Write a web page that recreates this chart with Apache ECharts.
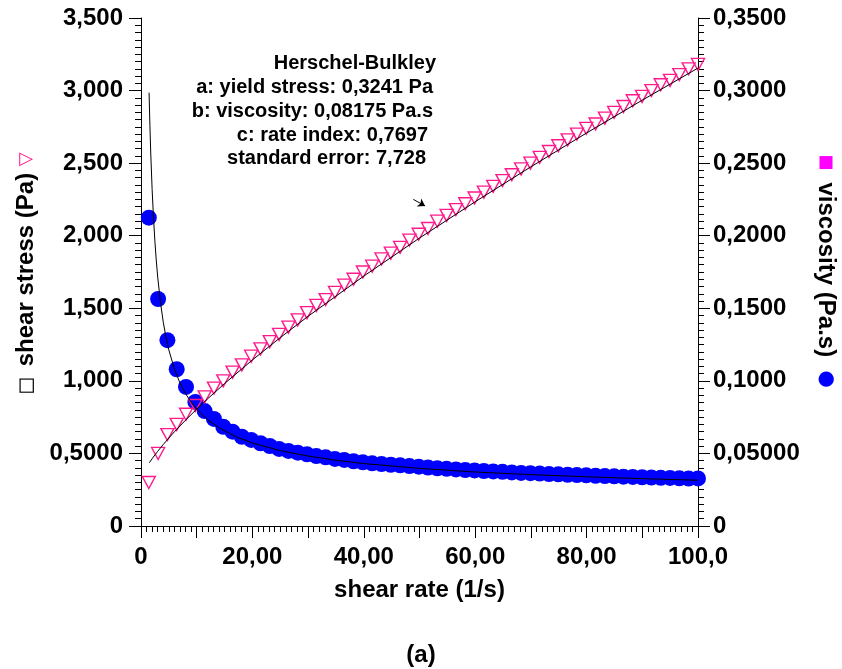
<!DOCTYPE html>
<html>
<head>
<meta charset="utf-8">
<script src="https://cdn.jsdelivr.net/npm/echarts@6/dist/echarts.min.js"></script>
<style>
  html, body { margin: 0; padding: 0; background: #fff; }
  #chart { width: 842px; height: 669px; }
</style>
</head>
<body>
<div id="chart"></div>
<script>
// Flow curve: shear stress and viscosity against shear rate, with Herschel-Bulkley fit

const shearRate = [
  1.40, 3.07, 4.74, 6.41, 8.08, 9.76, 11.43, 13.10, 14.77, 16.44,
  18.11, 19.78, 21.45, 23.12, 24.79, 26.47, 28.14, 29.81, 31.48, 33.15,
  34.82, 36.49, 38.16, 39.83, 41.50, 43.18, 44.85, 46.52, 48.19, 49.86,
  51.53, 53.20, 54.87, 56.54, 58.21, 59.89, 61.56, 63.23, 64.90, 66.57,
  68.24, 69.91, 71.58, 73.25, 74.92, 76.60, 78.27, 79.94, 81.61, 83.28,
  84.95, 86.62, 88.29, 89.96, 91.63, 93.31, 94.98, 96.65, 98.32, 100.0
];

// shear stress (Pa)
const shearStress = [
  0.30, 0.50, 0.63, 0.70, 0.77, 0.83, 0.89, 0.95, 1.00, 1.06,
  1.11, 1.17, 1.22, 1.27, 1.32, 1.37, 1.42, 1.47, 1.52, 1.56,
  1.61, 1.66, 1.70, 1.75, 1.79, 1.84, 1.88, 1.92, 1.97, 2.01,
  2.05, 2.10, 2.14, 2.18, 2.22, 2.26, 2.30, 2.34, 2.38, 2.42,
  2.46, 2.50, 2.54, 2.58, 2.62, 2.66, 2.70, 2.74, 2.77, 2.81,
  2.85, 2.89, 2.93, 2.96, 3.00, 3.04, 3.07, 3.11, 3.15, 3.18
];

// viscosity (Pa.s)
const viscosity = [
  0.2124, 0.1564, 0.1280, 0.1080, 0.0958, 0.0855, 0.0792, 0.0738, 0.0684, 0.0650,
  0.0615, 0.0593, 0.0570, 0.0551, 0.0531, 0.0517, 0.0505, 0.0494, 0.0482, 0.0473,
  0.0462, 0.0455, 0.0446, 0.0439, 0.0432, 0.0427, 0.0422, 0.0418, 0.0413, 0.0409,
  0.0403, 0.0398, 0.0394, 0.0390, 0.0386, 0.0383, 0.0379, 0.0376, 0.0373, 0.0369,
  0.0366, 0.0364, 0.0361, 0.0358, 0.0356, 0.0353, 0.0351, 0.0349, 0.0346, 0.0344,
  0.0342, 0.0340, 0.0338, 0.0336, 0.0334, 0.0332, 0.0331, 0.0329, 0.0327, 0.0328
];

// Herschel-Bulkley fitted curves
const stressFitRate = [1.5, 2, 2.5, 3, 4, 5, 6, 8, 10, 12, 15, 20, 25, 30, 40, 50, 60, 70, 80, 90, 100];
const stressFit = [0.436, 0.4635, 0.4896, 0.5145, 0.5617, 0.6063, 0.6487, 0.7293, 0.8051, 0.8776,
  0.9814, 1.144, 1.298, 1.445, 1.722, 1.984, 2.234, 2.475, 2.708, 2.934, 3.155];

const viscFitRate = [1.45, 1.6, 1.75, 2, 2.25, 2.5, 2.75, 3, 3.5, 4, 4.5, 5, 6, 7, 8, 9, 10, 12, 14, 17,
  20, 25, 30, 35, 40, 50, 60, 70, 80, 90, 100];
const viscFit = [0.2986, 0.2759, 0.2570, 0.2318, 0.2119, 0.1958, 0.1826, 0.1715, 0.1539, 0.1404,
  0.1298, 0.1213, 0.1081, 0.0985, 0.0912, 0.0853, 0.0805, 0.0731, 0.0677, 0.0616,
  0.0572, 0.0519, 0.0482, 0.0453, 0.0430, 0.0397, 0.0372, 0.0354, 0.0339, 0.0326, 0.03155];

// tick labels
const stressTickLabels = ['0', '0,5000', '1,000', '1,500', '2,000', '2,500', '3,000', '3,500'];
const viscTickLabels = ['0', '0,05000', '0,1000', '0,1500', '0,2000', '0,2500', '0,3000', '0,3500'];
const rateTickLabels = ['0', '20,00', '40,00', '60,00', '80,00', '100,0'];

const fitNotes = [
  'Herschel-Bulkley',
  'a: yield stress: 0,3241 Pa',
  'b: viscosity: 0,08175 Pa.s',
  'c: rate index: 0,7697',
  'standard error: 7,728'
];

const FONT = '"Liberation Sans", Arial, sans-serif';
const PINK = '#ff1a8c';
const BLUE = '#0000ff';

const zip = (xs, ys) => xs.map((x, i) => [x, ys[i]]);

const chart = echarts.init(document.getElementById('chart'), null, { renderer: 'canvas' });

const axisCommon = {
  axisLine: { show: true, lineStyle: { color: '#000', width: 1 } },
  axisTick: { show: true, length: 12, lineStyle: { color: '#000', width: 1 } },
  minorTick: { show: true, splitNumber: 10, length: 6, lineStyle: { color: '#000', width: 1 } },
  splitLine: { show: false },
  minorSplitLine: { show: false },
  axisLabel: { color: '#000', fontFamily: FONT, fontWeight: 'bold', fontSize: 24 },
  nameTextStyle: { color: '#000', fontFamily: FONT, fontWeight: 'bold', fontSize: 24 }
};

const noteAnchors = [[436, 63], [433, 87], [433, 111], [428, 135], [426, 158]];

const option = {
  backgroundColor: '#fff',
  animation: false,
  grid: { left: 141, right: 144, top: 18, bottom: 143, containLabel: false, outerBoundsMode: 'none' },
  title: {
    text: '(a)',
    left: 'center',
    top: 638,
    textStyle: { color: '#000', fontFamily: FONT, fontWeight: 'bold', fontSize: 24 }
  },
  xAxis: {
    type: 'value',
    min: 0, max: 100, interval: 10,
    ...axisCommon,
    axisLabel: {
      ...axisCommon.axisLabel,
      margin: 19,
      formatter: v => {
        const k = Math.round(v);
        return k % 20 === 0 ? rateTickLabels[k / 20] : '';
      }
    },
    name: 'shear rate (1/s)',
    nameLocation: 'middle',
    nameGap: 52
  },
  yAxis: [
    {
      type: 'value',
      position: 'left',
      min: 0, max: 3.5, interval: 0.5,
      ...axisCommon,
      axisLabel: {
        ...axisCommon.axisLabel,
        margin: 18,
        formatter: v => stressTickLabels[Math.round(v / 0.5)]
      },
      name: '{sq| }  shear stress (Pa) {tri|▽}',
      nameLocation: 'middle',
      nameRotate: 90,
      nameGap: 100,
      nameTextStyle: {
        ...axisCommon.nameTextStyle,
        rich: {
          sq: { width: 12, height: 12, borderColor: '#000', borderWidth: 1.2, backgroundColor: '#fff' },
          tri: { color: PINK, fontSize: 18, fontFamily: '"DejaVu Sans", sans-serif' }
        }
      }
    },
    {
      type: 'value',
      position: 'right',
      min: 0, max: 0.35, interval: 0.05,
      ...axisCommon,
      axisLabel: {
        ...axisCommon.axisLabel,
        margin: 15,
        formatter: v => viscTickLabels[Math.round(v / 0.05)]
      },
      name: '{sq| }  viscosity (Pa.s)  {dot|●}',
      nameLocation: 'middle',
      nameRotate: -90,
      nameGap: 116,
      nameTextStyle: {
        ...axisCommon.nameTextStyle,
        rich: {
          sq: { width: 13, height: 13, backgroundColor: '#ff00ff' },
          dot: { color: BLUE, fontSize: 20, fontFamily: '"DejaVu Sans", sans-serif' }
        }
      }
    }
  ],
  series: [
    {
      name: 'viscosity',
      type: 'scatter',
      yAxisIndex: 1,
      data: zip(shearRate, viscosity),
      symbol: 'circle',
      symbolSize: 16,
      itemStyle: { color: BLUE, opacity: 1, borderWidth: 0 },
      z: 2
    },
    {
      name: 'shear stress',
      type: 'scatter',
      yAxisIndex: 0,
      data: zip(shearRate, shearStress),
      symbol: 'triangle',
      symbolRotate: 180,
      symbolSize: [13, 12],
      itemStyle: { color: 'rgba(0,0,0,0)', borderColor: PINK, borderWidth: 1.4, opacity: 1 },
      z: 3
    },
    {
      name: 'viscosity fit',
      type: 'line',
      yAxisIndex: 1,
      data: zip(viscFitRate, viscFit),
      smooth: false,
      showSymbol: false,
      lineStyle: { color: '#000', width: 1 },
      z: 4
    },
    {
      name: 'stress fit',
      type: 'line',
      yAxisIndex: 0,
      data: zip(stressFitRate, stressFit),
      smooth: false,
      showSymbol: false,
      lineStyle: { color: '#000', width: 1 },
      z: 4,
      markLine: {
        silent: true,
        symbol: ['none', 'arrow'],
        symbolSize: 7,
        label: { show: false },
        lineStyle: { color: '#000', width: 1, type: 'solid' },
        data: [[{ coord: [48.9, 2.25] }, { coord: [51.0, 2.205] }]]
      }
    }
  ],
  graphic: fitNotes.map((t, i) => ({
    type: 'text',
    x: noteAnchors[i][0],
    y: noteAnchors[i][1],
    style: {
      text: t,
      align: 'right',
      verticalAlign: 'middle',
      fill: '#000',
      font: 'bold 20px ' + FONT
    }
  }))
};

chart.setOption(option);
</script>
</body>
</html>
